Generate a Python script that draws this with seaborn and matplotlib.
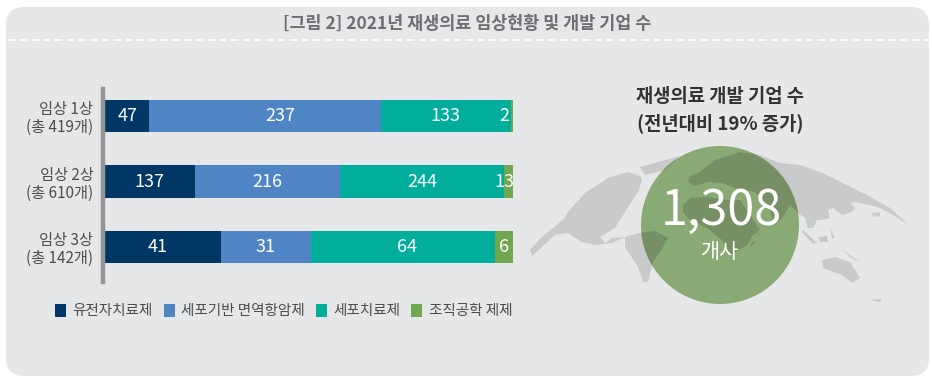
import matplotlib
matplotlib.use('Agg')
import matplotlib.pyplot as plt
from matplotlib.patches import Circle, FancyBboxPatch, Polygon
import pandas as pd
import seaborn as sns

phases = ['임상 1상\n(총 419개)', '임상 2상\n(총 610개)', '임상 3상\n(총 142개)']
series_names = ['유전자치료제', '세포기반 면역항암제', '세포치료제', '조직공학 제제']
gene_therapy = [47, 137, 41]
cell_immuno = [237, 216, 31]
cell_therapy = [133, 244, 64]
tissue_eng = [2, 13, 6]
colors = ['#003764', '#4f85c5', '#00ae9b', '#70a74f']

title = '[그림 2] 2021년 재생의료 임상현황 및 개발 기업 수'
side_title = '재생의료 개발 기업 수\n(전년대비 19% 증가)'
company_count = '1,308'
company_unit = '개사'

# rough outline of the background world map, in pixel coords
land = [
    [(530, 250), (542, 237), (565, 218), (567, 213), (585, 193), (608, 178), (628, 172), (640, 176), (642, 180),
     (638, 192), (628, 207), (615, 228), (600, 237), (605, 243), (612, 238), (625, 237), (612, 243), (595, 245),
     (582, 242), (568, 233), (555, 235), (542, 247), (532, 256)],
    [(640, 167), (680, 156), (665, 170), (645, 175)],
    [(625, 237), (638, 233), (655, 231), (668, 238), (660, 252), (653, 262), (648, 282), (643, 282), (638, 267),
     (625, 247)],
    [(700, 172), (715, 160), (740, 152), (760, 155), (780, 163), (800, 165), (823, 173), (843, 183), (867, 195),
     (890, 208), (910, 226), (893, 215), (880, 208), (870, 205), (855, 202), (850, 203), (855, 208), (852, 212),
     (842, 215), (833, 208), (828, 210), (830, 218), (820, 220), (817, 220), (813, 228), (808, 228), (805, 218),
     (798, 213), (790, 205), (782, 218), (775, 225), (768, 205), (755, 192), (735, 188), (722, 183), (708, 182),
     (695, 186), (688, 182), (690, 176)],
    [(683, 205), (690, 198), (707, 197), (727, 200), (740, 200), (750, 215), (760, 230), (753, 235), (747, 245),
     (730, 255), (722, 240), (707, 228), (690, 220), (683, 212)],
    [(752, 242), (757, 240), (750, 248)],
    [(822, 260), (835, 257), (850, 262), (860, 278), (852, 283), (842, 275), (823, 268)],
    [(818, 237), (827, 236), (828, 242), (820, 242)],
    [(803, 230), (817, 243), (813, 244), (802, 232)],
    [(843, 250), (860, 262), (850, 257)],
    [(872, 213), (880, 212), (880, 216), (873, 217)],
    [(830, 228), (835, 238), (832, 238)],
    [(870, 300), (882, 299), (880, 302)],
]

sns.set_theme(style='white')
plt.rcParams['font.family'] = ['Noto Sans CJK KR', 'DejaVu Sans']

fig = plt.figure(figsize=(9.32, 3.8), dpi=100, facecolor='white')

# background layer in pixel coords
bg = fig.add_axes([0, 0, 1, 1])
bg.set_xlim(0, 932)
bg.set_ylim(380, 0)
bg.axis('off')
bg.add_patch(FancyBboxPatch((22, 23), 891, 337, boxstyle='round,pad=16,rounding_size=18', facecolor='#e6e7e9',
                            edgecolor='none'))
bg.plot([8, 929], [40, 40], color='white', linewidth=1.3, linestyle=(0, (4, 2.5)))
bg.text(467, 24, title, ha='center', va='center', fontsize=12.5, fontweight='bold', color='#6d6e71')

for part in land:
    bg.add_patch(Polygon(part, closed=True, facecolor='#c9cacc', edgecolor='none'))
circle = Circle((720, 225), 79, facecolor='#8aaa75', edgecolor='none')
bg.add_patch(circle)
for part in land:
    dark = Polygon(part, closed=True, facecolor='#768f65', edgecolor='none')
    bg.add_patch(dark)
    dark.set_clip_path(circle)

bg.text(720, 110, side_title, ha='center', va='center', fontsize=13.5, fontweight='bold', color='#333333',
        linespacing=1.48)
bg.text(721, 211, company_count, ha='center', va='center', fontsize=35, color='white')
bg.text(720, 252, company_unit, ha='center', va='center', fontsize=15, color='white')

# stacked bars
df = pd.DataFrame({'phase': phases, series_names[0]: gene_therapy, series_names[1]: cell_immuno,
                   series_names[2]: cell_therapy, series_names[3]: tissue_eng})
totals = df[series_names].sum(axis=1)

ax = fig.add_axes([103 / 932, 1 - 282 / 380, 409.5 / 932, 193 / 380])
ax.patch.set_alpha(0)

left = pd.Series(0.0, index=df.index)
label_nudge = {(0, 0): 0.004, (0, 1): 0.037, (2, 0): -0.011, (2, 2): 0.01}
for j, (name, color) in enumerate(zip(series_names, colors)):
    share = df[name] / totals
    sns.barplot(x=share.values, y=df['phase'], color=color, saturation=1, width=0.49, left=left.values,
                label=name, ax=ax, orient='h', linewidth=0)
    for i in df.index:
        pos = min(left[i] + share[i] / 2, 0.98) + label_nudge.get((i, j), 0)
        ax.text(pos, i, str(df[name][i]), ha='center', va='center', color='white', fontsize=13)
    left = left + share

ax.set_xlim(0, 1)
ax.set_ylim(2.534, -0.412)
ax.set_xlabel('')
ax.set_ylabel('')
ax.set_xticks([])
ax.tick_params(axis='y', length=0, pad=7)
ax.set_yticks(range(len(phases)))
ax.set_yticklabels(phases, fontsize=11, color='#4d4d4f', ha='right', multialignment='right', linespacing=1.1)
sns.despine(ax=ax, top=True, right=True, bottom=True)
ax.spines['left'].set_color('#939598')
ax.spines['left'].set_linewidth(3.2)

ax.legend(loc='upper left', bbox_to_anchor=(55 / 932, 1 - 304 / 380), bbox_transform=fig.transFigure, ncols=4,
          frameon=False, fontsize=10.5, handlelength=0.78, handleheight=0.95, handletextpad=0.42, columnspacing=0.75,
          borderpad=0, borderaxespad=0, labelcolor='#4d4d4f')

fig.savefig('out.png', dpi=100)
